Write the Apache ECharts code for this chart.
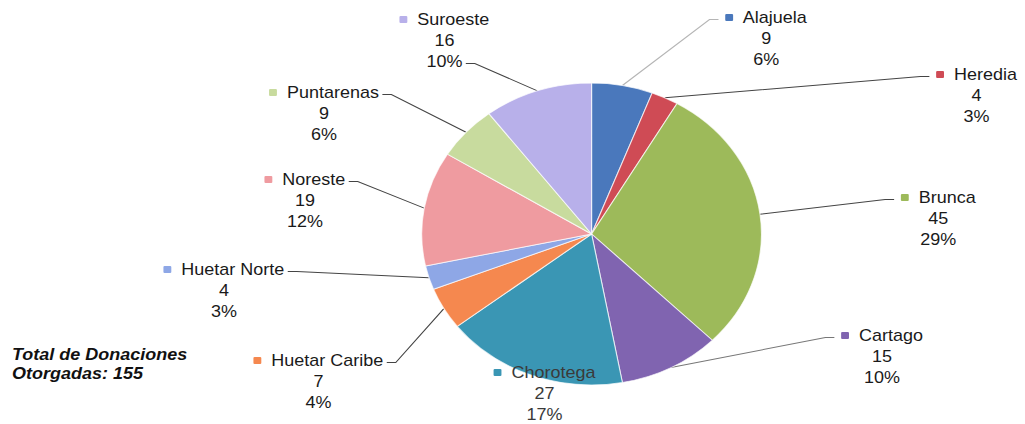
<!DOCTYPE html>
<html><head><meta charset="utf-8">
<script src="https://cdn.jsdelivr.net/npm/echarts@6/dist/echarts.min.js"></script>
<style>
html,body{margin:0;padding:0;background:#fff;overflow:hidden}
#wrap{width:1025px;height:424px;overflow:hidden}
#c{width:911px;height:424px;transform:scaleX(1.1251);transform-origin:0 0}
</style>
</head><body><div id="wrap"><div id="c"></div></div>
<script>
// ---- data ----
const categories = ['Alajuela','Heredia','Brunca','Cartago','Chorotega','Huetar Caribe','Huetar Norte','Noreste','Puntarenas','Suroeste'];
const values     = [9, 4, 45, 15, 27, 7, 4, 19, 9, 16];
const percents   = [6, 3, 29, 10, 17, 4, 3, 12, 6, 10];
const totalLabel = 'Total de Donaciones\nOtorgadas: ';

// ---- style / layout ----
const colors = ['#4a78bc','#cf4b55','#9dba5a','#8064b0','#3a96b4','#f5884f','#8ea7e6','#ef9ba0','#c8db9e','#b8b0ea'];
const labelX = [681, 868, 834, 784, 484, 283, 199, 271, 288, 395];
const labelY = [7, 64, 187, 325, 362, 350, 259, 169, 82, 9];
const lineRow = [0, 0, 0, 0, -1, 0, 0, 0, 0, 2];
const lineColors = ['#b5b5b5','#444','#444','#777','#444','#444','#444','#444','#444','#444'];
const CX = 525.8, CY = 234, R = 151, FS = 16, LH = 21;
const FONT = '"Liberation Sans", Arial, sans-serif';

const total = values.reduce((a, b) => a + b, 0);
const measureCtx = document.createElement('canvas').getContext('2d');
measureCtx.font = FS + 'px ' + FONT;

const rich = {};
colors.forEach((c, i) => { rich['m' + i] = { width: 7, height: 7, backgroundColor: c, borderRadius: 1 }; });

const data = categories.map((name, i) => ({
  name: name,
  value: values[i],
  itemStyle: { color: colors[i] },
  label: i === 4 ? { color: '#3a3a3a' } : undefined,
  labelLine: { show: lineRow[i] >= 0, lineStyle: { color: lineColors[i], width: 1 } }
}));

// cumulative mid angles (clockwise from 12 o'clock)
const midAngles = [];
let cum = 0;
values.forEach(v => { midAngles.push((cum + v / 2) / total * Math.PI * 2); cum += v; });

const chart = echarts.init(document.getElementById('c'), null, { renderer: 'svg' });
chart.setOption({
  backgroundColor: '#fff',
  animation: false,
  graphic: [{
    type: 'text', left: 10.7, top: 345,
    style: {
      text: totalLabel + total,
      fontSize: 16, fontWeight: 'bold', fontStyle: 'italic', fontFamily: FONT,
      lineHeight: 19, fill: '#111'
    }
  }],
  series: [{
    type: 'pie',
    center: [CX, CY],
    radius: R,
    startAngle: 90,
    clockwise: true,
    data: data,
    itemStyle: { borderColor: 'rgba(255,255,255,0.7)', borderWidth: 1 },
    label: {
      show: true,
      position: 'outside',
      color: '#1a1a1a',
      fontSize: FS,
      fontFamily: FONT,
      lineHeight: LH,
      formatter: p => '{m' + p.dataIndex + '|}  ' + p.name + '\n' + p.value + '\n' + percents[p.dataIndex] + '%',
      rich: rich
    },
    labelLine: { show: true, length: 5, length2: 5 },
    labelLayout: function (p) {
      const i = p.dataIndex;
      const lx = labelX[i], ly = labelY[i];
      const res = { x: lx, y: ly, align: 'center', verticalAlign: 'top' };
      if (lineRow[i] >= 0) {
        const a = midAngles[i];
        const start = [CX + R * Math.sin(a), CY - R * Math.cos(a)];
        const row = lineRow[i];
        let w = p.labelRect.width;
        if (row === 2) w = measureCtx.measureText(percents[i] + '%').width;
        const ey = ly + LH * (row + 0.5) + 2;
        const left = lx > CX;
        const ex = left ? lx - w / 2 - 6 : lx + w / 2 + 3;
        const mx = left ? ex - 8 : ex + 8;
        res.labelLinePoints = [start, [mx, ey], [ex, ey]];
      }
      return res;
    }
  }]
});
</script>
</body></html>
